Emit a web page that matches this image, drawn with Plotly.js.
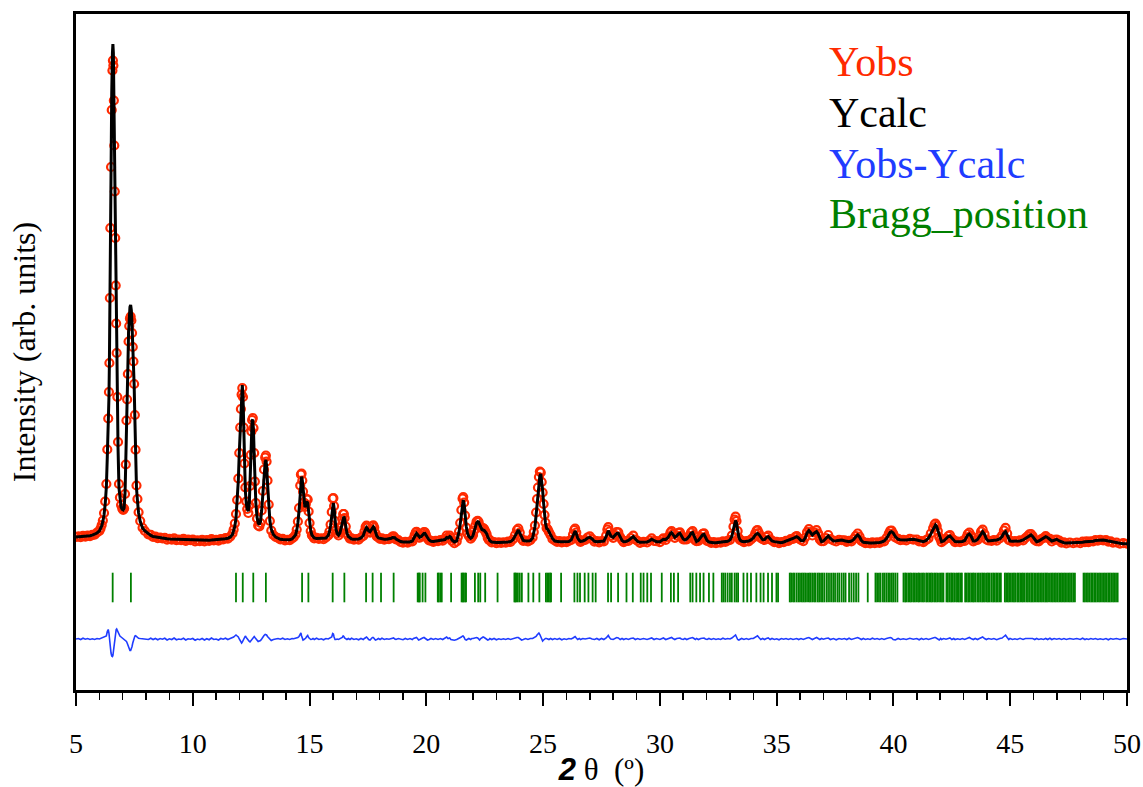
<!DOCTYPE html>
<html><head><meta charset="utf-8">
<script src="https://cdn.plot.ly/plotly-3.0.1.min.js"></script>
<style>html,body{margin:0;padding:0;background:#fff}#chart{width:1143px;height:787px}</style>
</head><body><div id="chart"></div>
<script>
// 2-theta grid (degrees)
const twoTheta = [
5.0,5.1,5.2,5.3,5.4,5.5,5.6,5.7,5.8,5.9,
6.0,6.05,6.1,6.15,6.2,6.25,6.3,6.34,6.38,6.41,
6.43,6.45,6.47,6.5,6.53,6.56,6.58,6.6,6.62,6.64,
6.66,6.68,6.7,6.72,6.74,6.77,6.8,6.84,6.88,6.93,
6.98,7.02,7.06,7.1,7.13,7.16,7.19,7.22,7.25,7.28,
7.31,7.34,7.37,7.4,7.43,7.46,7.49,7.52,7.55,7.59,
7.63,7.68,7.75,7.85,7.95,8.1,8.2,8.3,8.4,8.5,
8.6,8.7,8.8,8.9,9.0,9.1,9.2,9.3,9.4,9.5,
9.6,9.7,9.8,9.9,10.0,10.1,10.2,10.3,10.4,10.5,
10.6,10.7,10.8,10.9,11.0,11.1,11.2,11.3,11.4,11.5,
11.6,11.7,11.75,11.8,11.85,11.9,11.95,11.99,12.03,12.06,
12.09,12.12,12.15,12.18,12.21,12.25,12.29,12.33,12.38,12.42,
12.45,12.48,12.51,12.54,12.57,12.6,12.63,12.66,12.7,12.75,
12.8,12.85,12.9,12.95,13.0,13.05,13.1,13.13,13.16,13.2,
13.25,13.3,13.36,13.45,13.55,13.65,13.75,13.85,13.95,14.05,
14.15,14.25,14.32,14.4,14.45,14.5,14.55,14.6,14.63,14.66,
14.69,14.72,14.76,14.8,14.84,14.88,14.92,14.96,15.0,15.05,
15.1,15.15,15.2,15.3,15.4,15.5,15.6,15.7,15.8,15.85,
15.9,15.95,15.99,16.02,16.05,16.09,16.13,16.18,16.24,16.3,
16.35,16.4,16.44,16.47,16.5,16.55,16.6,16.66,16.73,16.8,
16.9,17.0,17.1,17.2,17.3,17.35,17.4,17.44,17.48,17.53,
17.59,17.64,17.69,17.73,17.77,17.82,17.88,17.95,18.02,18.1,
18.2,18.3,18.4,18.5,18.55,18.6,18.65,18.7,18.8,18.9,
19.0,19.1,19.2,19.3,19.4,19.45,19.5,19.55,19.58,19.62,
19.67,19.72,19.78,19.84,19.9,19.94,19.98,20.05,20.12,20.2,
20.3,20.4,20.5,20.6,20.7,20.8,20.87,20.93,21.0,21.05,
21.1,21.2,21.3,21.35,21.4,21.45,21.5,21.55,21.58,21.62,
21.66,21.71,21.76,21.82,21.9,21.95,22.0,22.05,22.1,22.15,
22.2,22.24,22.28,22.33,22.38,22.43,22.48,22.53,22.58,22.63,
22.68,22.72,22.8,22.9,23.0,23.1,23.2,23.3,23.4,23.5,
23.6,23.7,23.8,23.88,23.94,24.0,24.08,24.15,24.25,24.35,
24.45,24.55,24.6,24.65,24.7,24.74,24.78,24.82,24.86,24.9,
24.94,24.98,25.02,25.06,25.1,25.15,25.2,25.25,25.32,25.4,
25.5,25.6,25.7,25.8,25.9,26.0,26.1,26.2,26.28,26.33,
26.37,26.42,26.48,26.55,26.6,26.7,26.8,26.9,27.0,27.1,
27.2,27.3,27.4,27.5,27.6,27.7,27.75,27.79,27.84,27.9,
28.0,28.08,28.15,28.22,28.3,28.38,28.45,28.55,28.65,28.75,
28.86,28.95,29.05,29.15,29.3,29.45,29.55,29.65,29.75,29.85,
30.0,30.1,30.15,30.25,30.35,30.45,30.5,30.56,30.64,30.72,
30.8,30.86,30.92,31.0,31.07,31.15,31.25,31.33,31.4,31.46,
31.52,31.57,31.65,31.75,31.83,31.89,31.95,32.02,32.1,32.2,
32.3,32.4,32.5,32.6,32.7,32.8,32.9,33.0,33.08,33.15,
33.2,33.24,33.28,33.33,33.38,33.43,33.5,33.6,33.7,33.8,
33.9,34.0,34.08,34.14,34.18,34.24,34.32,34.4,34.48,34.56,
34.64,34.72,34.8,34.9,35.0,35.1,35.2,35.3,35.4,35.5,
35.6,35.7,35.8,35.86,35.94,36.04,36.14,36.22,36.3,36.38,
36.45,36.53,36.62,36.71,36.78,36.85,36.92,37.0,37.1,37.21,
37.3,37.43,37.55,37.67,37.79,37.9,38.0,38.1,38.2,38.3,
38.38,38.47,38.55,38.63,38.71,38.8,38.9,39.0,39.1,39.2,
39.3,39.4,39.5,39.6,39.7,39.8,39.86,39.92,39.99,40.08,
40.2,40.3,40.42,40.55,40.7,40.85,41.0,41.1,41.2,41.28,
41.4,41.5,41.6,41.7,41.76,41.8,41.85,41.9,41.96,42.02,
42.06,42.15,42.25,42.35,42.42,42.5,42.58,42.64,42.75,42.85,
42.95,43.05,43.12,43.18,43.25,43.32,43.42,43.5,43.6,43.68,
43.75,43.82,43.9,43.98,44.06,44.2,44.3,44.42,44.55,44.65,
44.73,44.8,44.87,44.94,44.99,45.1,45.2,45.3,45.42,45.55,
45.65,45.75,45.82,45.89,45.96,46.05,46.13,46.22,46.32,46.42,
46.52,46.6,46.7,46.78,46.88,46.99,47.1,47.2,47.3,47.4,
47.55,47.7,47.85,48.0,48.1,48.2,48.27,48.35,48.45,48.55,
48.65,48.75,48.85,48.98,49.1,49.2,49.3,49.4,49.55,49.7,
49.84,50.0
];
// calculated intensity (arb. units)
const yCalc = [
120,122,125,128,132,138,146,158,175,200,
240,280,340,430,560,780,1120,1720,2300,2900,
3600,5000,6500,7800,9000,9800,9980,9800,9000,8000,
7000,6000,5000,4200,3600,2750,1900,1100,850,720,
670,660,700,1000,1600,2500,2950,3500,4200,4550,
4720,4760,4650,4350,4000,3650,3150,2500,1800,1100,
850,600,430,300,240,180,150,130,120,110,
100,95,90,85,80,78,75,72,70,68,
66,64,62,60,58,56,55,54,54,54,
55,56,58,60,62,66,70,76,84,95,
115,170,230,330,500,800,1250,1800,2350,2750,
3050,3160,2950,2300,1550,1050,800,680,640,800,
1200,1800,2250,2450,2470,2250,1750,1200,800,520,
400,370,430,650,1000,1400,1620,1660,1550,1200,
750,450,280,170,120,90,75,68,62,60,
65,80,110,160,250,400,650,1050,1250,1330,
1250,1050,820,720,760,830,800,600,400,250,
160,120,100,90,90,90,90,100,150,220,
350,580,780,800,700,450,280,190,160,200,
300,450,520,530,480,330,200,130,95,80,
75,75,80,100,150,220,290,310,290,240,
225,260,310,325,300,220,140,100,90,80,
75,75,80,95,110,115,105,80,50,30,
20,15,15,20,40,80,140,185,193,170,
130,115,130,170,190,193,170,110,60,35,
30,35,45,50,55,70,110,100,130,110,
60,20,40,120,220,380,620,830,860,780,
560,330,200,130,95,110,150,230,330,400,
425,420,370,300,270,260,250,220,190,120,
70,47,20,10,10,10,10,10,15,20,
30,60,140,230,260,200,100,50,40,40,
45,100,200,320,560,800,1000,1200,1340,1380,
1250,1050,800,560,400,290,270,230,150,90,
40,30,27,27,27,27,30,60,150,220,
240,190,100,50,30,40,60,100,113,80,
35,27,27,27,40,130,220,247,200,140,
113,150,190,193,130,50,27,30,50,90,
127,80,30,13,13,20,40,73,50,27,
27,60,73,70,110,190,207,170,113,140,
185,193,150,80,60,80,130,190,207,150,
60,27,50,110,165,173,120,50,20,10,
7,7,10,15,20,25,35,60,130,280,
400,447,400,250,120,60,35,27,27,40,
60,100,160,190,193,170,110,65,70,110,
127,80,40,27,20,10,7,20,35,50,
70,90,115,127,100,50,45,100,200,247,
210,160,200,227,180,80,27,40,90,140,
90,40,45,55,60,45,30,27,40,70,
120,160,120,50,13,5,0,0,0,0,
5,10,20,40,90,170,215,227,200,130,
73,65,60,62,68,73,60,45,30,27,
50,100,180,280,340,360,330,250,140,60,
27,40,90,130,140,100,50,27,25,25,
30,50,100,160,180,140,40,40,70,130,
200,227,170,80,40,45,50,60,80,130,
200,227,160,70,40,35,35,38,40,60,
90,130,155,160,130,70,27,40,70,110,
127,110,70,40,55,73,40,15,5,0,
0,0,0,5,15,25,27,25,25,35,
50,55,60,60,50,40,25,10,0,-5,
-13,-15
];
// Yobs - Ycalc
const residual = [
0,10,-10,15,-5,10,-10,5,-10,10,
0,10,20,20,40,50,60,150,190,120,
0,-100,-200,-280,-340,-350,-330,-250,-150,-50,
30,100,150,190,200,170,120,80,60,40,
20,0,-10,-20,-30,-50,-80,-120,-170,-210,
-230,-230,-200,-150,-80,-20,30,60,65,50,
30,15,10,5,0,-10,15,-10,10,-15,
10,-5,15,-20,5,-10,20,-15,0,-10,
15,-20,5,-5,10,-25,0,-15,10,-20,
5,-15,20,-10,0,-20,10,-5,15,-10,
10,20,40,60,80,60,40,0,-40,-70,
-80,-60,-30,10,40,60,30,0,-40,-50,
-60,-40,-20,10,30,50,50,30,0,-30,
-50,-40,-30,0,40,70,90,90,80,50,
20,-10,-30,-10,0,10,-5,15,-10,5,
-10,10,5,10,20,30,50,100,120,60,
0,-20,-10,0,20,50,70,30,0,-10,
-5,10,-10,15,-10,5,-15,10,0,10,
20,40,110,100,40,-10,-10,0,-10,10,
10,30,60,50,20,0,-10,10,-10,15,
-10,5,-15,10,-10,10,30,40,20,-10,
-20,10,30,30,10,-20,-10,10,-10,15,
-10,5,-5,10,20,20,0,-10,10,-10,
-15,10,-10,10,-10,10,20,30,30,10,
-20,-10,10,20,30,20,0,-20,-10,10,
-10,10,-10,10,-10,20,40,10,20,-10,
-20,-25,-10,0,10,20,40,60,60,30,
-10,-20,-10,10,-10,10,10,20,20,30,
20,0,-20,10,30,40,30,10,-10,-20,
-10,10,-10,10,-15,5,-10,5,-10,10,
-10,10,20,30,30,10,-20,-10,10,-10,
10,10,20,30,50,80,110,120,90,30,
-30,-40,-20,0,10,10,0,-10,10,-10,
10,-10,10,-15,5,-10,10,0,20,40,
50,20,-10,10,-10,10,0,10,20,0,
-10,10,-15,10,-10,20,50,70,30,0,
-10,10,30,20,-10,10,-10,10,-10,10,
20,-10,10,-10,10,-10,10,20,-10,10,
-10,10,20,-10,10,20,30,10,-10,10,
20,20,0,-10,10,-10,10,20,30,10,
-10,10,-10,10,20,20,0,-10,10,-10,
10,-10,5,-10,15,-5,10,0,20,50,
70,80,40,-10,-20,0,10,-10,10,-10,
10,10,30,60,65,30,-10,10,-10,10,
20,-10,10,-10,5,-15,10,-5,10,-10,
10,-10,10,10,-10,10,-10,10,20,30,
10,-10,10,30,10,-10,10,-5,10,20,
-10,10,-15,10,-5,10,-10,15,-10,10,
20,30,10,-10,10,-10,5,-10,15,-5,
10,-10,10,-10,10,20,30,20,-10,-20,
10,-10,5,-10,15,-5,10,-15,10,-10,
10,-10,10,20,30,30,10,-10,-20,10,
-10,10,-5,10,20,-10,10,-10,5,-10,
10,-10,10,20,30,10,-10,10,-10,10,
30,40,10,-10,10,-5,10,-15,10,20,
50,75,30,-10,10,-10,5,-10,15,-10,
10,10,20,20,10,-10,10,-10,5,-10,
10,-10,15,-10,10,-5,10,-10,10,-10,
10,-5,10,-10,15,-10,5,-10,10,-5,
10,-10,5,-10,10,-15,10,-5,10,-10,
10,0
];
// Bragg reflection positions (2-theta, degrees)
const braggPos = [
6.57,7.35,11.85,12.14,12.59,13.13,14.68,14.95,15.99,16.49,
17.42,17.70,18.06,18.60,19.63,19.68,19.72,19.84,19.96,20.49,
20.53,20.60,20.66,21.06,21.51,21.56,21.60,21.66,21.70,22.08,
22.22,22.31,22.52,23.05,23.77,23.81,23.85,23.92,24.00,24.09,
24.37,24.58,24.84,25.12,25.18,25.24,25.30,25.34,25.77,26.34,
26.47,26.58,26.78,26.94,27.12,27.25,27.78,27.91,28.21,28.57,
28.84,29.18,29.30,29.46,29.62,30.08,30.47,30.60,30.78,31.30,
31.40,31.56,31.72,31.87,32.10,32.29,32.65,32.72,32.80,32.90,
33.00,33.08,33.20,33.28,33.35,33.58,33.74,33.90,34.13,34.31,
34.44,34.63,34.80,34.99,35.06,35.56,35.62,35.70,35.76,35.85,
35.93,36.00,36.08,36.15,36.22,36.30,36.38,36.44,36.52,36.60,
36.66,36.75,36.82,36.90,36.97,37.05,37.15,37.24,37.33,37.42,
37.50,37.60,37.68,37.78,37.87,37.95,38.10,38.20,38.30,38.40,
38.50,38.90,39.23,39.30,39.38,39.45,39.55,39.62,39.70,39.78,
39.85,39.93,40.00,40.08,40.17,40.43,40.50,40.55,40.63,40.70,
40.76,40.84,40.90,40.97,41.05,41.10,41.18,41.25,41.31,41.40,
41.46,41.53,41.60,41.66,41.74,41.80,41.87,41.95,42.02,42.08,
42.14,42.27,42.33,42.40,42.47,42.53,42.60,42.68,42.74,42.80,
42.87,42.93,43.07,43.13,43.20,43.26,43.33,43.40,43.45,43.52,
43.60,43.66,43.73,43.80,43.86,43.92,44.00,44.06,44.12,44.20,
44.27,44.33,44.40,44.46,44.53,44.60,44.77,44.83,44.90,44.96,
45.03,45.10,45.16,45.22,45.30,45.36,45.43,45.50,45.55,45.62,
45.70,45.76,45.83,45.90,45.96,46.03,46.10,46.17,46.23,46.30,
46.36,46.43,46.50,46.56,46.62,46.70,46.77,46.83,46.90,46.96,
47.03,47.10,47.17,47.23,47.30,47.36,47.43,47.50,47.56,47.63,
47.70,47.77,48.14,48.20,48.27,48.33,48.40,48.47,48.53,48.60,
48.66,48.73,48.80,48.86,48.93,49.00,49.06,49.13,49.20,49.26,
49.33,49.40,49.46,49.53,49.60
];
const xTickVals = [5,10,15,20,25,30,35,40,45,50];
const xTickText = ['5','10','15','20','25','30','35','40','45','50'];
const legendLabels = ['Yobs','Ycalc','Yobs-Ycalc','Bragg_position'];

if (twoTheta.length !== yCalc.length || twoTheta.length !== residual.length) {
  throw new Error('length mismatch ' + twoTheta.length + ' ' + yCalc.length + ' ' + residual.length);
}

const yObs = yCalc.map((v, i) => v + residual[i]);
const DIFF_BASE = -1920;
const yDiff = residual.map(v => v + DIFF_BASE);
const TICK_TOP = -594, TICK_BOT = -1186;
const bx = [], by = [];
braggPos.forEach(p => { bx.push(p, p, null); by.push(TICK_TOP, TICK_BOT, null); });

const RED = '#ff2a00', BLUE = '#1f3cff', GREEN = '#008000';
const SERIF = 'Liberation Serif';

const traces = [
  {x: bx, y: by, type: 'scatter', mode: 'lines', line: {color: GREEN, width: 1.8}, hoverinfo: 'skip', name: 'Bragg_position'},
  {x: twoTheta, y: yDiff, type: 'scatter', mode: 'lines', line: {color: BLUE, width: 1.6}, name: 'Yobs-Ycalc'},
  {x: twoTheta, y: yObs, type: 'scatter', mode: 'markers', name: 'Yobs',
   marker: {symbol: 'circle-open', size: 8, color: RED, line: {color: RED, width: 2.2}}},
  {x: twoTheta, y: yCalc, type: 'scatter', mode: 'lines', line: {color: '#000', width: 3}, name: 'Ycalc'}
];

const legendColors = [RED, '#000', BLUE, GREEN];
const legendY = [0.929, 0.8536, 0.778, 0.704];
const annotations = legendLabels.map((t, i) => ({
  text: t, xref: 'paper', yref: 'paper', x: 0.7145, y: legendY[i],
  xanchor: 'left', yanchor: 'middle', showarrow: false,
  font: {family: SERIF, size: 42, color: legendColors[i]}
}));

const layout = {
  width: 1143, height: 787,
  margin: {l: 76, r: 16, t: 14, b: 97},
  paper_bgcolor: '#fff', plot_bgcolor: '#fff',
  showlegend: false,
  font: {family: SERIF, color: '#000', size: 26},
  xaxis: {
    range: [5, 50], tickmode: 'array', tickvals: xTickVals, ticktext: xTickText,
    ticks: 'outside', ticklen: 13, tickwidth: 2, tickcolor: '#000',
    ticklabelstandoff: 13,
    minor: {tickmode: 'linear', tick0: 5, dtick: 1, ticks: 'outside', ticklen: 7, tickwidth: 1.5, tickcolor: '#000'},
    showline: true, linecolor: '#000', linewidth: 3, mirror: true,
    showgrid: false, zeroline: false, automargin: false,
    tickfont: {family: SERIF, size: 28, color: '#000'},
    title: {text: '<span style="font-family:Liberation Sans,Arial,sans-serif;font-weight:bold;font-style:italic">2</span>\u00a0θ\u00a0\u00a0(º)',
            font: {family: SERIF, size: 31, color: '#000'}, standoff: 1}
  },
  yaxis: {
    range: [-2940, 10580], showticklabels: false, ticks: '',
    showline: true, linecolor: '#000', linewidth: 3, mirror: true,
    showgrid: false, zeroline: false, automargin: false,
    title: {text: 'Intensity (arb. units)', font: {family: SERIF, size: 32, color: '#000'}, standoff: 28}
  },
  annotations: annotations
};

Plotly.newPlot('chart', traces, layout, {displayModeBar: false, staticPlot: true});
</script>
</body></html>
